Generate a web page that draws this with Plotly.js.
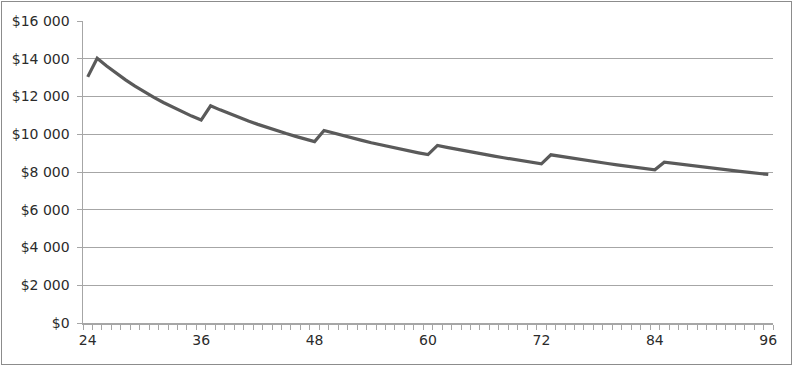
<!DOCTYPE html>
<html>
<head>
<meta charset="utf-8">
<script src="https://cdn.plot.ly/plotly-3.0.1.min.js"></script>
<style>
html, body { margin: 0; padding: 0; background: #fff; }
#frame { position: absolute; left: 1px; top: 1px; width: 789px; height: 362px; border: 1px solid #8c8c8c; }
#chart { width: 789px; height: 362px; }
</style>
</head>
<body>
<div id="frame"><div id="chart"></div></div>
<script>
// Months (categories) 24..96
const months = [24,25,26,27,28,29,30,31,32,33,34,35,36,37,38,39,40,41,42,43,44,45,46,47,48,49,50,51,52,53,54,55,56,57,58,59,60,61,62,63,64,65,66,67,68,69,70,71,72,73,74,75,76,77,78,79,80,81,82,83,84,85,86,87,88,89,90,91,92,93,94,95,96];
// Values (dollars)
const values = [13040,
  14030,13618,13235,12880,12550,12241,11953,11682,11428,11189,10963,10750,
  11510,11292,11085,10888,10701,10523,10353,10191,10036,9888,9746,9610,
  10200,10060,9926,9797,9673,9553,9438,9327,9220,9116,9016,8920,
  9410,9307,9207,9111,9017,8926,8838,8753,8670,8589,8511,8435,
  8910,8828,8748,8670,8595,8521,8449,8379,8310,8244,8179,8115,
  8520,8454,8390,8327,8265,8205,8146,8088,8032,7977,7923,7870];
const xTickVals = [24,36,48,60,72,84,96];
const yTickVals = [0,2000,4000,6000,8000,10000,12000,14000,16000];
const yTickText = ["$0","$2 000","$4 000","$6 000","$8 000","$10 000","$12 000","$14 000","$16 000"];

const trace = {
  x: months, y: values, type: 'scatter', mode: 'lines',
  line: {color: '#5a5a5a', width: 3.2},
  hoverinfo: 'skip'
};
const layout = {
  width: 789, height: 362,
  margin: {l: 81, r: 18, t: 19, b: 41, pad: 0},
  paper_bgcolor: '#fff', plot_bgcolor: '#fff',
  font: {family: 'DejaVu Sans', size: 14, color: '#2b2b2b'},
  showlegend: false,
  xaxis: {
    range: [23.5, 96.5], tickvals: xTickVals, ticktext: xTickVals.map(String),
    ticks: '', showgrid: false, zeroline: false,
    showline: true, linecolor: '#a6a6a6', linewidth: 1.5,
    minor: {tick0: 23.5, dtick: 1, ticks: 'outside', ticklen: 5, tickcolor: '#a6a6a6', tickwidth: 1, showgrid: false},
    ticklabelstandoff: 4,
    fixedrange: true
  },
  yaxis: {
    range: [0, 16000], tickvals: yTickVals, ticktext: yTickText,
    ticks: 'outside', ticklen: 5, tickcolor: '#a6a6a6',
    showgrid: true, gridcolor: '#a6a6a6', gridwidth: 1,
    zeroline: false, showline: true, linecolor: '#a6a6a6', linewidth: 1.5,
    ticklabelstandoff: 4,
    fixedrange: true
  }
};
Plotly.newPlot('chart', [trace], layout, {displayModeBar: false, staticPlot: true});
</script>
</body>
</html>
